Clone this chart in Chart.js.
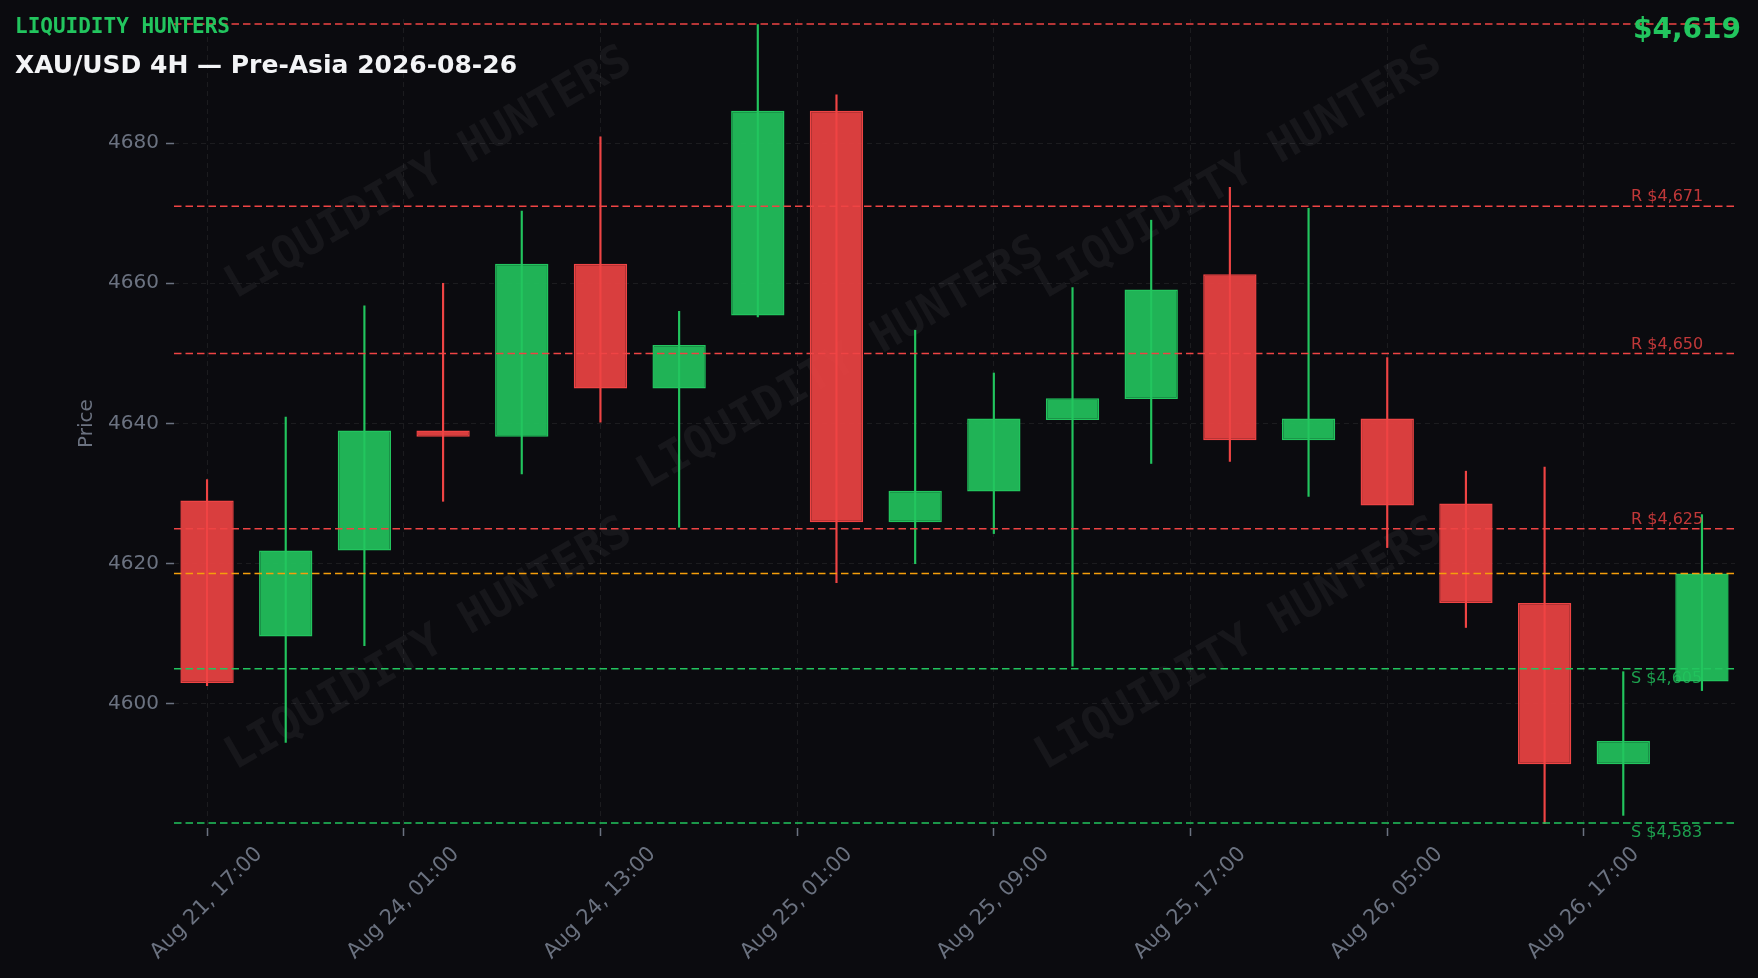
<!DOCTYPE html>
<html>
<head>
<meta charset="utf-8">
<script src="https://cdn.jsdelivr.net/npm/chart.js@4.4.1/dist/chart.umd.min.js"></script>
<style>
  html, body { margin: 0; padding: 0; background: #0b0b0f; }
  #wrap { position: relative; width: 1758px; height: 978px; }
</style>
</head>
<body>
<div id="wrap"><canvas id="canvas"></canvas></div>
<script>
// 4H candles
var opens  = [4629.0, 4609.6, 4621.9, 4639.0, 4638.1, 4662.8, 4645.0, 4655.4, 4684.6, 4625.9, 4630.3, 4640.5, 4643.5, 4661.3, 4637.6, 4640.7, 4628.6, 4614.4, 4591.4, 4603.2];
var highs  = [4632.0, 4640.9, 4656.8, 4660.0, 4670.3, 4680.9, 4656.0, 4696.9, 4686.9, 4653.3, 4647.2, 4659.4, 4669.0, 4673.7, 4670.7, 4649.4, 4633.2, 4633.8, 4604.6, 4627.0];
var lows   = [4602.6, 4594.5, 4608.3, 4628.9, 4632.8, 4640.2, 4625.2, 4655.2, 4617.3, 4620.0, 4624.3, 4605.4, 4634.3, 4634.6, 4629.6, 4622.3, 4610.9, 4582.9, 4584.1, 4601.9];
var closes = [4603.0, 4621.9, 4639.0, 4638.1, 4662.8, 4645.0, 4651.2, 4684.6, 4625.9, 4630.4, 4640.7, 4643.6, 4659.1, 4637.6, 4640.7, 4628.3, 4614.4, 4591.4, 4594.7, 4618.6];

var timeTickPos = [0, 2.5, 5, 7.5, 10, 12.5, 15, 17.5];
var timeTickLabels = ['Aug 21, 17:00', 'Aug 24, 01:00', 'Aug 24, 13:00', 'Aug 25, 01:00', 'Aug 25, 09:00', 'Aug 25, 17:00', 'Aug 26, 05:00', 'Aug 26, 17:00'];
var priceTicks = [4600, 4620, 4640, 4660, 4680];

var resistance = [4671, 4650, 4625];
var support = [4605, 4583];
var rangeHigh = 4697;
var lastPrice = 4618.6;

var GREEN = '#22c55e', RED = '#ef4444', ORANGE = '#f59e0b';
var GRID = 'rgba(255,255,255,0.07)', MUTED = '#6b7280';

Chart.defaults.font.family = '"DejaVu Sans", sans-serif';

function isUp(i) { return i === undefined || closes[i] >= opens[i]; }

var bodies = opens.map(function (o, i) { return { x: i, y: [o, closes[i]] }; });
var wicks = lows.map(function (l, i) { return { x: i, y: [l, highs[i]] }; });

function fmt(v) { return '$' + Math.round(v).toLocaleString('en-US'); }

var overlay = {
  id: 'overlay',
  beforeDatasetsDraw: function (chart) {
    var ctx = chart.ctx;
    var spots = [[429, 174], [841, 364], [1239, 174], [429, 645], [1239, 645]];
    ctx.save();
    ctx.font = 'bold 45px "DejaVu Sans Mono"';
    ctx.fillStyle = 'rgba(255,255,255,0.05)';
    ctx.textAlign = 'center';
    ctx.textBaseline = 'middle';
    spots.forEach(function (p) {
      ctx.save();
      ctx.translate(p[0], p[1]);
      ctx.rotate(-30 * Math.PI / 180);
      ctx.fillText('LIQUIDITY HUNTERS', 0, 0);
      ctx.restore();
    });
    ctx.restore();
  },
  afterDatasetsDraw: function (chart) {
    var ctx = chart.ctx, a = chart.chartArea, ys = chart.scales.y;
    function line(v, color) {
      var py = ys.getPixelForValue(v);
      ctx.save();
      ctx.strokeStyle = color;
      ctx.lineWidth = 1.5;
      ctx.setLineDash([7.5, 4]);
      ctx.beginPath();
      ctx.moveTo(a.left, py);
      ctx.lineTo(a.right, py);
      ctx.stroke();
      ctx.restore();
      return py;
    }
    line(rangeHigh, RED);
    ctx.save();
    ctx.font = '16px "DejaVu Sans"';
    ctx.textAlign = 'left';
    resistance.forEach(function (v) {
      var py = line(v, RED);
      ctx.fillStyle = 'rgba(239,68,68,0.8)';
      ctx.textBaseline = 'bottom';
      ctx.fillText('R ' + fmt(v), a.right - 104, py - 1);
    });
    support.forEach(function (v) {
      var py = line(v, GREEN);
      ctx.fillStyle = 'rgba(34,197,94,0.8)';
      ctx.textBaseline = 'top';
      ctx.fillText('S ' + fmt(v), a.right - 104, py + 2);
    });
    ctx.restore();
    line(lastPrice, ORANGE);
  },
  afterDraw: function (chart) {
    var ctx = chart.ctx;
    ctx.save();
    ctx.textBaseline = 'alphabetic';
    ctx.textAlign = 'left';
    ctx.fillStyle = GREEN;
    ctx.font = 'bold 21px "DejaVu Sans Mono"';
    ctx.fillText('LIQUIDITY HUNTERS', 15, 33);
    ctx.fillStyle = '#f3f4f6';
    ctx.font = 'bold 25px "DejaVu Sans"';
    ctx.fillText('XAU/USD 4H \u2014 Pre-Asia 2026-08-26', 15, 73);
    ctx.textAlign = 'right';
    ctx.fillStyle = GREEN;
    ctx.font = 'bold 28px "DejaVu Sans"';
    ctx.fillText(fmt(lastPrice), 1741, 38);
    ctx.restore();
  }
};

var ctx = document.getElementById('canvas').getContext('2d');

var chart = new Chart(ctx, {
  type: 'bar',
  data: {
    datasets: [{
      data: bodies,
      order: 0,
      grouped: false,
      categoryPercentage: 1,
      barPercentage: 0.678,
      borderWidth: 1.5,
      borderSkipped: false,
      backgroundColor: function (c) { return isUp(c.dataIndex) ? 'rgba(34,197,94,0.9)' : 'rgba(239,68,68,0.9)'; },
      borderColor: function (c) { return isUp(c.dataIndex) ? GREEN : RED; }
    }, {
      data: wicks,
      order: 1,
      grouped: false,
      barThickness: 1.5,
      borderWidth: 0,
      backgroundColor: function (c) { return isUp(c.dataIndex) ? GREEN : RED; }
    }]
  },
  options: {
    responsive: true,
    maintainAspectRatio: false,
    animation: false,
    layout: { padding: { left: 0, right: 23, top: 16, bottom: 0 } },
    plugins: { legend: { display: false }, tooltip: { enabled: false } },
    scales: {
      x: {
        type: 'linear',
        min: -0.42,
        max: 19.42,
        offset: false,
        afterBuildTicks: function (s) { s.ticks = timeTickPos.map(function (v) { return { value: v }; }); },
        afterFit: function (s) { s.height = 150; },
        grid: { color: GRID, offset: false, tickLength: 8, tickColor: MUTED, tickWidth: 1.5 },
        border: { display: false, dash: [5, 4] },
        ticks: {
          color: MUTED,
          font: { size: 21 },
          autoSkip: false,
          minRotation: 45,
          maxRotation: 45,
          labelOffset: 52,
          padding: 6,
          callback: function (v, i) { return timeTickLabels[i]; }
        }
      },
      y: {
        min: 4582.3,
        max: 4697.7,
        afterBuildTicks: function (s) { s.ticks = priceTicks.map(function (v) { return { value: v }; }); },
        afterFit: function (s) { s.width = 174; },
        title: { display: true, text: 'Price', color: MUTED, font: { size: 20 }, padding: { top: 75, bottom: 0 } },
        grid: { color: GRID, tickLength: 8, tickColor: MUTED, tickWidth: 1.5 },
        border: { display: false, dash: [5, 4] },
        ticks: { color: MUTED, font: { size: 20 }, padding: 7, callback: function (v) { return String(v); } }
      }
    }
  },
  plugins: [overlay]
});
</script>
</body>
</html>
